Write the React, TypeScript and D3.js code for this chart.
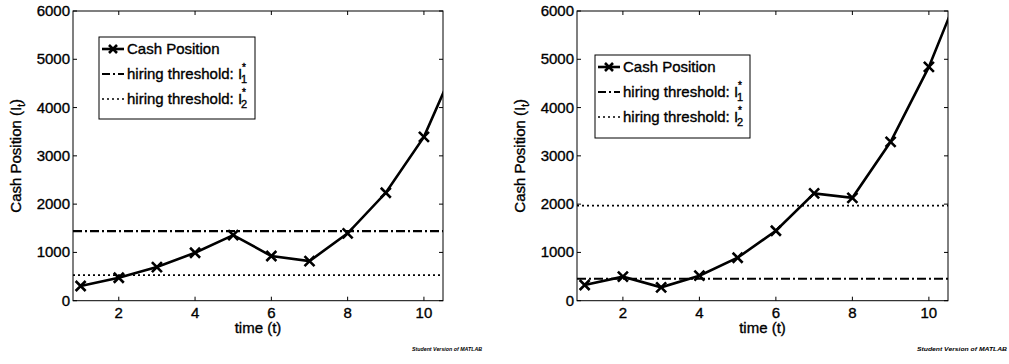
import React from "react";
import * as d3 from "d3";

const times = [1, 2, 3, 4, 5, 6, 7, 8, 9, 10, 11];
const cashLeft = [304, 476, 697, 993, 1359, 925, 821, 1394, 2235, 3393, 5190];
const cashRight = [325, 497, 277, 518, 890, 1449, 2222, 2131, 3290, 4842, 6800];
const threshold1Left = 1440;
const threshold2Left = 530;
const threshold1Right = 455;
const threshold2Right = 1970;
const xTicks = [2, 4, 6, 8, 10];
const yTicks = [0, 1000, 2000, 3000, 4000, 5000, 6000];
const xDomain = [0.8, 10.5];
const yDomain = [0, 6000];

const FONT = "'Liberation Sans', Arial, Helvetica, sans-serif";
const TXT = { fontFamily: FONT, fontSize: 15, fill: "#000", stroke: "#000", strokeWidth: 0.35 };

type PanelProps = {
  id: string;
  left: number;
  right: number;
  cash: number[];
  th1: number;
  th2: number;
  legend: { x: number; y: number; w: number; h: number };
  ylabelX: number;
  footerX: number;
  footerW: number;
};

function Marker({ x, y, s = 5 }: { x: number; y: number; s?: number }) {
  return (
    <path
      d={`M${x - s},${y - s}L${x + s},${y + s}M${x - s},${y + s}L${x + s},${y - s}`}
      stroke="#000"
      strokeWidth={2.6}
      fill="none"
    />
  );
}

function Panel(p: PanelProps) {
  const top = 11;
  const bottom = 300.7;
  const x = d3.scaleLinear().domain(xDomain).range([p.left, p.right]);
  const y = d3.scaleLinear().domain(yDomain).range([bottom, top]);
  const line = d3
    .line<number>()
    .x((_, i) => x(times[i]))
    .y((d) => y(d));
  const clipId = `clip-${p.id}`;
  const tickLen = 4;
  const lg = p.legend;
  const rowY = [lg.y + 12, lg.y + 37, lg.y + 62];
  const sx0 = lg.x + 3;
  const sx1 = lg.x + 25;
  const tx = lg.x + 28;
  const cx = (p.left + p.right) / 2;
  const cy = (top + bottom) / 2;
  return (
    <g>
      <defs>
        <clipPath id={clipId}>
          <rect x={p.left} y={top} width={p.right - p.left} height={bottom - top} />
        </clipPath>
      </defs>
      <rect x={p.left} y={top} width={p.right - p.left} height={bottom - top} fill="#fff" />
      <g clipPath={`url(#${clipId})`}>
        <line
          x1={p.left}
          x2={p.right}
          y1={y(p.th1)}
          y2={y(p.th1)}
          stroke="#000"
          strokeWidth={2.2}
          strokeDasharray="9,3,2,3"
        />
        <line
          x1={p.left}
          x2={p.right}
          y1={y(p.th2)}
          y2={y(p.th2)}
          stroke="#000"
          strokeWidth={1.8}
          strokeDasharray="2,3"
        />
        <path d={line(p.cash) || ""} stroke="#000" strokeWidth={2.6} fill="none" />
        {p.cash.map((v, i) => (
          <Marker key={i} x={x(times[i])} y={y(v)} />
        ))}
      </g>
      <rect
        x={p.left}
        y={top}
        width={p.right - p.left}
        height={bottom - top}
        fill="none"
        stroke="#000"
        strokeWidth={1}
      />
      {xTicks.map((t) => (
        <g key={`xt${t}`}>
          <line x1={x(t)} x2={x(t)} y1={bottom} y2={bottom - tickLen} stroke="#000" />
          <line x1={x(t)} x2={x(t)} y1={top} y2={top + tickLen} stroke="#000" />
          <text x={x(t)} y={bottom + 17} textAnchor="middle" {...TXT}>
            {t}
          </text>
        </g>
      ))}
      {yTicks.map((t) => (
        <g key={`yt${t}`}>
          <line x1={p.left} x2={p.left + tickLen} y1={y(t)} y2={y(t)} stroke="#000" />
          <line x1={p.right} x2={p.right - tickLen} y1={y(t)} y2={y(t)} stroke="#000" />
          <text x={p.left - 3} y={y(t) + 5} textAnchor="end" {...TXT}>
            {t}
          </text>
        </g>
      ))}
      <text x={cx} y={bottom + 32} textAnchor="middle" {...TXT}>
        time (t)
      </text>
      <text
        transform={`translate(${p.ylabelX},${cy}) rotate(-90)`}
        textAnchor="middle"
        {...TXT}
      >
        Cash Position (I
        <tspan fontSize={10} dy={4}>
          t
        </tspan>
        <tspan dy={-4}>)</tspan>
      </text>
      <rect x={lg.x} y={lg.y} width={lg.w} height={lg.h} fill="#fff" stroke="#000" strokeWidth={1} />
      <line x1={sx0} x2={sx1} y1={rowY[0]} y2={rowY[0]} stroke="#000" strokeWidth={2.6} />
      <Marker x={(sx0 + sx1) / 2} y={rowY[0]} s={4} />
      <text x={tx} y={rowY[0] + 5} {...TXT}>
        Cash Position
      </text>
      <line
        x1={sx0}
        x2={sx1}
        y1={rowY[1]}
        y2={rowY[1]}
        stroke="#000"
        strokeWidth={2.2}
        strokeDasharray="8,3,2,3"
      />
      <text x={tx} y={rowY[1] + 5} {...TXT}>
        hiring threshold: I
        <tspan fontSize={10} dy={-8}>
          *
        </tspan>
        <tspan fontSize={11} dx={-5} dy={12}>
          1
        </tspan>
      </text>
      <line
        x1={sx0}
        x2={sx1}
        y1={rowY[2]}
        y2={rowY[2]}
        stroke="#000"
        strokeWidth={1.6}
        strokeDasharray="2,3"
      />
      <text x={tx} y={rowY[2] + 5} {...TXT}>
        hiring threshold: I
        <tspan fontSize={10} dy={-8}>
          *
        </tspan>
        <tspan fontSize={11} dx={-5} dy={12}>
          2
        </tspan>
      </text>
      <text
        x={p.footerX}
        y={351}
        fontFamily={FONT}
        fontSize={6}
        fontWeight="bold"
        fontStyle="italic"
        fill="#000"
        textLength={p.footerW}
        lengthAdjust="spacingAndGlyphs"
      >
        Student Version of MATLAB
      </text>
    </g>
  );
}

export default function App() {
  return (
    <svg
      width={1009}
      height={364}
      style={{ position: "absolute", left: 0, top: 0, background: "#fff" }}
    >
      <rect width={1009} height={364} fill="#fff" />
      <Panel
        id="a"
        left={73}
        right={443}
        cash={cashLeft}
        th1={threshold1Left}
        th2={threshold2Left}
        legend={{ x: 99, y: 37, w: 156, h: 82 }}
        ylabelX={21}
        footerX={412}
        footerW={70}
      />
      <Panel
        id="b"
        left={577}
        right={948}
        cash={cashRight}
        th1={threshold1Right}
        th2={threshold2Right}
        legend={{ x: 595, y: 55, w: 155, h: 83 }}
        ylabelX={525}
        footerX={917}
        footerW={90}
      />
    </svg>
  );
}
